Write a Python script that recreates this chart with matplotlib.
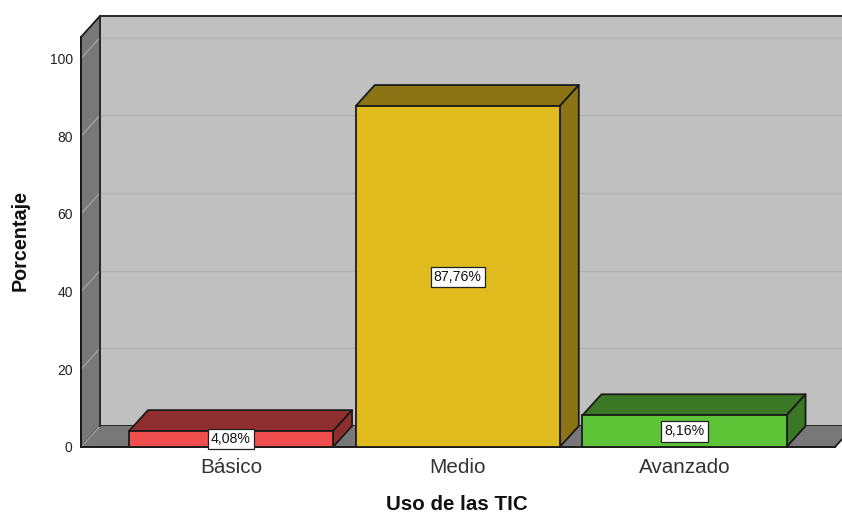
import matplotlib
matplotlib.use("Agg")
import matplotlib.pyplot as plt
from matplotlib.patches import Polygon

plt.rcParams['font.family'] = ['Liberation Sans', 'DejaVu Sans']

categories = ["Básico", "Medio", "Avanzado"]
values = [4.08, 87.76, 8.16]
value_labels = ["4,08%", "87,76%", "8,16%"]
front_colors = ["#f04e4e", "#e0bb1e", "#5ec437"]
dark_colors = ["#8f2e2e", "#8b7415", "#3b7825"]
y_ticks = [0, 20, 40, 60, 80, 100]
x_title = "Uso de las TIC"
y_title = "Porcentaje"

W, H = 842, 513
fig = plt.figure(figsize=(W / 100, H / 100), dpi=100, facecolor="white")
L, R, T, B = 81, 835, 37, 447
ax = fig.add_axes([L / W, 1 - B / H, (R - L) / W, (B - T) / H], facecolor="none")

px_x = 226.75
px_y = 3.885
x0 = -(231 - L) / px_x
x1 = (R - 231) / px_x
y1 = (B - T) / px_y
ax.set_xlim(x0, x1)
ax.set_ylim(0, y1)
dx = 19 / px_x
dy = 21 / px_y
bw = 0.9
edge = "#1a1a1a"


def poly(pts, fc, ec=edge, lw=1.3, z=1):
    ax.add_patch(Polygon(pts, closed=True, facecolor=fc, edgecolor=ec, lw=lw,
                         zorder=z, clip_on=False, joinstyle="round"))


xb = x1 + 0.2
# back wall, side wall, floor
poly([(x0 + dx, dy), (xb, dy), (xb, y1 + dy), (x0 + dx, y1 + dy)], "#c0c0c0", z=1)
poly([(x0, 0), (x0 + dx, dy), (x0 + dx, y1 + dy), (x0, y1)], "#787878", z=1.1)
poly([(x0, 0), (x1, 0), (x1 + dx, dy), (x0 + dx, dy)], "#787878", ec="none", lw=0, z=1.1)
ax.plot([x0, x0 + dx], [0, dy], color="#a0a0a0", lw=1, zorder=1.15, clip_on=False)
ax.plot([x0 + dx, x0 + dx], [dy, y1 + dy], color="#2a2a2a", lw=1.4, zorder=1.2, clip_on=False)
ax.plot([x1, x1 + dx], [0, dy], color=edge, lw=1.3, zorder=1.2, clip_on=False)

# gridlines on the back wall and the side wall
for t in y_ticks[1:]:
    ax.plot([x0 + dx, xb], [t + dy, t + dy], color="#b3b3b3", lw=1.0, zorder=1.15, clip_on=False)
    ax.plot([x0, x0 + dx], [t, t + dy], color="#a0a0a0", lw=1, zorder=1.15, clip_on=False)

# bars
bars = ax.bar(range(len(values)), values, width=bw, color=front_colors,
              edgecolor=edge, linewidth=1.3, zorder=3, clip_on=False)
for i, (v, fc) in enumerate(zip(values, dark_colors)):
    a, b = i - bw / 2, i + bw / 2
    poly([(a, v), (b, v), (b + dx, v + dy), (a + dx, v + dy)], fc, z=2.5)
    poly([(b, 0), (b + dx, dy), (b + dx, v + dy), (b, v)], fc, z=2.6)
    ax.annotate(value_labels[i], (i, v / 2), xytext=(0, 0.9), textcoords="offset points",
                ha="center", va="center_baseline", fontsize=10.2, color="#111111", zorder=6,
                bbox=dict(boxstyle="square,pad=0.22", facecolor="white", edgecolor="#222222", lw=0.9))

ax.set_xticks(range(len(categories)), categories)
ax.set_yticks(y_ticks)
ax.tick_params(axis="x", length=0, pad=8, labelsize=14.9, labelcolor="#333333")
ax.tick_params(axis="y", length=0, pad=6, labelsize=10, labelcolor="#222222")
for s in ("top", "right"):
    ax.spines[s].set_visible(False)
for s in ("left", "bottom"):
    ax.spines[s].set_color(edge)
    ax.spines[s].set_linewidth(1.4)
    ax.spines[s].set_zorder(4)
ax.spines["bottom"].set_zorder(2.4)

fig.text(456.5 / W, 1 - 505 / H, x_title, ha="center", va="center", fontsize=14.8, fontweight="bold", color="#111111")
fig.text(20 / W, 1 - 240.5 / H, y_title, ha="center", va="center", rotation=90, fontsize=14.2, fontweight="bold", color="#111111")

fig.savefig("out.png", dpi=100)
